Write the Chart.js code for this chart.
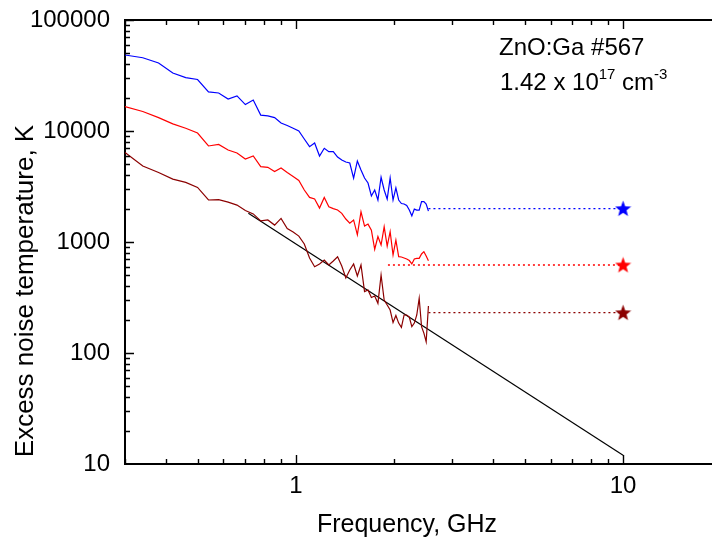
<!DOCTYPE html>
<html lang="en">
<head>
<meta charset="UTF-8">
<title>ZnO:Ga #567 - excess noise temperature</title>
<script src="https://cdn.jsdelivr.net/npm/chart.js"></script>
<style>
  html, body { margin: 0; padding: 0; background: #fff; }
  #wrap { width: 712px; height: 539px; }
</style>
</head>
<body>
<div id="wrap"><canvas id="noiseChart" width="712" height="539"></canvas></div>
<script>
// frequency grid of the measured spectra, GHz
const freqGHz = [0.30, 0.34, 0.38, 0.42, 0.46, 0.50, 0.54, 0.58, 0.62, 0.66,
                 0.70, 0.74, 0.78, 0.82, 0.86, 0.90, 0.94, 0.98, 1.02, 1.06,
                 1.10, 1.14, 1.18, 1.22, 1.26, 1.30, 1.34, 1.38, 1.42, 1.46,
                 1.50, 1.54, 1.58, 1.62, 1.66, 1.70, 1.74, 1.78, 1.82, 1.86,
                 1.90, 1.94, 1.98, 2.02, 2.06, 2.10, 2.14, 2.18, 2.22, 2.26,
                 2.30, 2.34, 2.38, 2.42, 2.46, 2.50, 2.54];

// excess noise temperature, K
const tempBlue = [48400, 45700, 41000, 33300, 30300, 29100, 22500, 22000, 19400, 20700,
                  17300, 19000, 13900, 13700, 13200, 11800, 11200, 10600, 10000, 8470,
                  7220, 7800, 5950, 6990, 6510, 6510, 5830, 5480, 5260, 5150,
                  3770, 5370, 4450, 3770, 3400, 2600, 2940, 2390, 3830, 2940,
                  2430, 3770, 2390, 3070, 2390, 2220, 2200, 2130, 1940, 1720,
                  1980, 1940, 1940, 2310, 2310, 2200, 1900];
const tempRed = [16600, 15000, 13200, 11600, 10600, 9590, 7330, 7560, 6740, 6340,
                 5590, 5950, 4770, 4710, 4320, 4640, 4230, 3890, 3580, 2940,
                 2520, 2440, 2020, 2520, 2080, 2000, 1940, 1810, 1610, 1480,
                 1580, 1160, 1870, 1390, 1450, 1280, 860, 1120, 940, 1370,
                 920, 1240, 764, 1040, 737, 733, 718, 703, 681, 634,
                 703, 713, 713, 780, 818, 748, 679];
const tempDark = [6400, 4840, 4230, 3690, 3440, 3100, 2390, 2410, 2290, 2150,
                  1920, 1790, 1550, 1580, 1420, 1630, 1320, 1230, 1130, 959,
                  718, 599, 634, 688, 621, 674, 737, 608, 474, 559,
                  634, 494, 621, 357, 369, 316, 326, 280, 504, 300,
                  271, 244, 188, 218, 186, 170, 220, 220, 211, 173,
                  186, 220, 311, 173, 151, 126, 265];

// levels at 10 GHz (stars) and start of the dotted guide lines
const starFreq = 10;
const starTemp = [2000, 621, 231];
const dotStartFreq = [2.54, 1.91, 2.54];

// black power-law line
const fitFreq = [0.715, 10];
const fitTemp = [1815, 12];

const xTickLabels = [1, 10];
const yTickLabels = [10, 100, 1000, 10000, 100000];

const seriesColors = ['#0000ff', '#ff0000', '#8b0000'];
const FONT = "'Liberation Sans', Arial, Helvetica, sans-serif";

function pairs(xs, ys) {
    return xs.map((v, i) => ({ x: v, y: ys[i] }));
}

function makeStar(color, size) {
    const c = document.createElement('canvas');
    c.width = size;
    c.height = size;
    const g = c.getContext('2d');
    const r = size / 2, ri = r * 0.42;
    g.beginPath();
    for (let i = 0; i < 10; i++) {
        const rad = i % 2 ? ri : r;
        const ang = -Math.PI / 2 + i * Math.PI / 5;
        g.lineTo(r + rad * Math.cos(ang), r + 0.6 + rad * Math.sin(ang));
    }
    g.closePath();
    g.fillStyle = color;
    g.fill();
    return c;
}

const curves = [tempBlue, tempRed, tempDark];
const datasets = [];

curves.forEach((temps, i) => {
    datasets.push({
        data: pairs(freqGHz, temps),
        showLine: true,
        borderColor: seriesColors[i],
        borderWidth: 1.2,
        pointRadius: 0
    });
    datasets.push({
        data: pairs([dotStartFreq[i], starFreq], [starTemp[i], starTemp[i]]),
        showLine: true,
        borderColor: seriesColors[i],
        borderWidth: 1.4,
        borderDash: [2, 3],
        pointRadius: 0
    });
    datasets.push({
        data: [{ x: starFreq, y: starTemp[i] }],
        showLine: false,
        pointStyle: makeStar(seriesColors[i], 17),
        pointRadius: 8
    });
});

datasets.push({
    data: pairs(fitFreq, fitTemp),
    showLine: true,
    borderColor: '#000',
    borderWidth: 1.2,
    pointRadius: 0
});

// no extra room for edge labels: the frame sits where the layout puts it
function noEdgePadding(s) {
    s.paddingTop = 0;
    s.paddingBottom = 0;
    s.paddingLeft = 0;
    s.paddingRight = 0;
}

// inward tick marks, top frame, axis titles and the sample note
const decorPlugin = {
    id: 'decor',
    afterDraw(chart) {
        const { ctx, chartArea: a, scales: { x, y } } = chart;
        ctx.save();
        ctx.strokeStyle = '#000';
        ctx.lineWidth = 2;
        ctx.beginPath();
        ctx.moveTo(a.left - 1, a.top);
        ctx.lineTo(a.right, a.top);
        ctx.stroke();

        ctx.lineWidth = 1.4;
        ctx.beginPath();
        for (let d = -1; d <= 1; d++) {
            for (let m = 1; m <= 9; m++) {
                const v = m * Math.pow(10, d);
                if (v <= x.min || v >= x.max) continue;
                const px = Math.round(x.getPixelForValue(v)) + 0.5;
                const len = m === 1 ? 9 : 5;
                ctx.moveTo(px, a.bottom);
                ctx.lineTo(px, a.bottom - len);
                ctx.moveTo(px, a.top);
                ctx.lineTo(px, a.top + len);
            }
        }
        for (let d = 1; d <= 5; d++) {
            for (let m = 1; m <= 9; m++) {
                const v = m * Math.pow(10, d);
                if (v <= y.min || v > y.max) continue;
                const py = Math.round(y.getPixelForValue(v)) + 0.5;
                const len = m === 1 ? 9 : 5;
                ctx.moveTo(a.left, py);
                ctx.lineTo(a.left + len, py);
            }
        }
        ctx.stroke();

        ctx.fillStyle = '#000';
        ctx.textBaseline = 'alphabetic';

        ctx.font = '25px ' + FONT;
        ctx.textAlign = 'center';
        ctx.fillText('Frequency, GHz', 407, 532);

        ctx.save();
        ctx.translate(33, 291);
        ctx.rotate(-Math.PI / 2);
        ctx.font = '26px ' + FONT;
        ctx.fillText('Excess noise temperature, K', 0, 0);
        ctx.restore();

        ctx.textAlign = 'left';
        ctx.font = '24px ' + FONT;
        ctx.fillText('ZnO:Ga #567', 499, 55);

        let tx = 500;
        const base = 90;
        const parts = [
            ['1.42 x 10', 24, 0],
            ['17', 15, -11],
            [' cm', 24, 0],
            ['-3', 15, -11]
        ];
        parts.forEach(([t, size, dy]) => {
            ctx.font = size + 'px ' + FONT;
            ctx.fillText(t, tx, base + dy);
            tx += ctx.measureText(t).width;
        });
        ctx.restore();
    }
};

new Chart(document.getElementById('noiseChart'), {
    type: 'scatter',
    data: { datasets: datasets },
    options: {
        responsive: false,
        animation: false,
        events: [],
        layout: { autoPadding: false, padding: { top: 20, right: 0, bottom: 0, left: 0 } },
        plugins: {
            legend: { display: false },
            tooltip: { enabled: false }
        },
        scales: {
            x: {
                type: 'logarithmic',
                min: 0.3,
                max: 18.7,
                grid: { display: false, drawTicks: false },
                border: { display: true, color: '#000', width: 2 },
                afterBuildTicks: s => { s.ticks = xTickLabels.map(v => ({ value: v })); },
                afterFit: s => { s.height = 75; noEdgePadding(s); },
                ticks: {
                    color: '#000',
                    padding: 8,
                    maxRotation: 0,
                    font: { family: FONT, size: 24 },
                    callback: v => String(v)
                }
            },
            y: {
                type: 'logarithmic',
                min: 10,
                max: 100000,
                grid: { display: false, drawTicks: false },
                border: { display: true, color: '#000', width: 2 },
                afterBuildTicks: s => { s.ticks = yTickLabels.map(v => ({ value: v })); },
                afterFit: s => { s.width = 125; noEdgePadding(s); },
                ticks: {
                    color: '#000',
                    padding: 15,
                    font: { family: FONT, size: 24 },
                    callback: v => String(v)
                }
            }
        }
    },
    plugins: [decorPlugin]
});
</script>
</body>
</html>
